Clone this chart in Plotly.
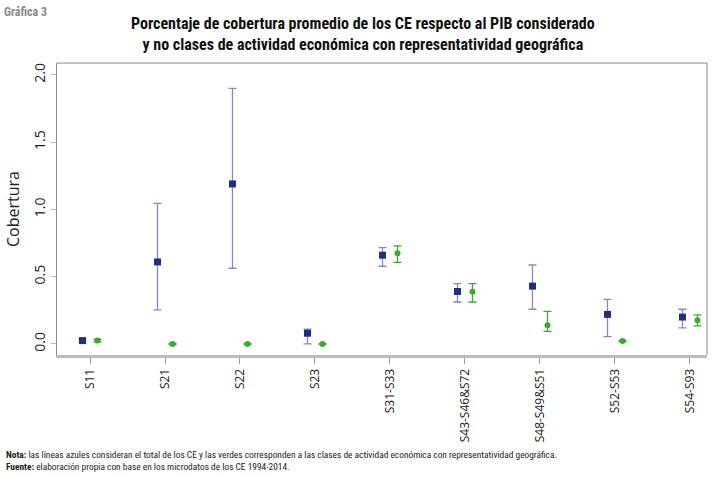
import plotly.graph_objects as go

categories = ["S11", "S21", "S22", "S23", "S31-S33", "S43-S46&S72", "S48-S49&S51", "S52-S53", "S54-S93"]

total_mean = [0.025, 0.61, 1.19, 0.08, 0.66, 0.39, 0.43, 0.22, 0.20]
total_upper = [0.035, 1.045, 1.90, 0.11, 0.716, 0.448, 0.587, 0.332, 0.258]
total_lower = [0.015, 0.253, 0.563, 0.0, 0.578, 0.312, 0.258, 0.054, 0.119]

geo_mean = [0.025, 0.0, 0.0, 0.0, 0.674, 0.389, 0.139, 0.022, 0.176]
geo_upper = [0.035, 0.004, 0.002, 0.002, 0.729, 0.448, 0.243, 0.026, 0.216]
geo_lower = [0.015, -0.004, -0.002, -0.002, 0.607, 0.312, 0.094, 0.018, 0.134]

offset = 0.1
idx = list(range(len(categories)))

fig = go.Figure()
fig.add_trace(go.Scatter(
    x=[i - offset for i in idx], y=total_mean, mode="markers",
    marker=dict(symbol="square", size=7, color="#1f2f80"),
    error_y=dict(type="data", symmetric=False,
                 array=[u - m for u, m in zip(total_upper, total_mean)],
                 arrayminus=[m - l for m, l in zip(total_mean, total_lower)],
                 color="#8a86c6", thickness=1.3, width=4),
    showlegend=False, cliponaxis=False))
fig.add_trace(go.Scatter(
    x=[i + offset for i in idx], y=geo_mean, mode="markers",
    marker=dict(symbol="circle", size=6, color="#3aaa35"),
    error_y=dict(type="data", symmetric=False,
                 array=[u - m for u, m in zip(geo_upper, geo_mean)],
                 arrayminus=[m - l for m, l in zip(geo_mean, geo_lower)],
                 color="#3aaa35", thickness=1.3, width=4),
    showlegend=False, cliponaxis=False))

title_font = "Liberation Sans Narrow, Roboto Condensed, Arial Narrow, sans-serif"

fig.update_layout(
    width=713, height=477,
    margin=dict(l=57, r=6, t=63, b=122),
    paper_bgcolor="white", plot_bgcolor="white",
    font=dict(family="Open Sans", color="#222"),
    xaxis=dict(range=[-0.44, 8.227], tickmode="array", tickvals=idx, ticktext=categories,
               tickangle=-90, ticks="outside", ticklen=6, tickcolor="#999",
               showgrid=False, zeroline=False, showline=True, linecolor="#bbb", linewidth=3,
               mirror=False, automargin=False,
               tickfont=dict(family="Open Sans", size=12, color="#222")),
    yaxis=dict(range=[-0.082, 2.089], tickvals=[0, 0.5, 1.0, 1.5, 2.0],
               ticktext=["0.0", "0.5", "1.0", "1.5", "2.0"], tickangle=-90,
               ticks="outside", ticklen=5, tickcolor="#bbb",
               showgrid=False, zeroline=False, showline=True, linecolor="#888", linewidth=1,
               mirror=False, automargin=False,
               tickfont=dict(family="Open Sans", size=14, color="#222"),
               title=dict(text="Cobertura", font=dict(family="Open Sans", size=16, color="#222"),
                          standoff=6)),
    shapes=[
        dict(type="line", xref="paper", yref="paper", x0=0, x1=1, y0=1, y1=1,
             line=dict(color="#888", width=1)),
        dict(type="line", xref="paper", yref="paper", x0=1, x1=1, y0=0, y1=1,
             line=dict(color="#888", width=1)),
    ],
    annotations=[
        dict(text="<b>Gráfica 3</b>", xref="paper", yref="paper", x=-0.084, y=1.205,
             xanchor="left", yanchor="top", showarrow=False,
             font=dict(family=title_font, size=12, color="#888")),
        dict(text="<b>Porcentaje de cobertura promedio de los CE respecto al PIB considerado<br>"
                  "y no clases de actividad económica con representatividad geográfica</b>",
             xref="paper", yref="paper", x=0.471, y=1.025, xanchor="center", yanchor="bottom",
             showarrow=False, align="center",
             font=dict(family=title_font, size=16, color="#111")),
        dict(text="<b>Nota:</b> las líneas azules consideran el total de los CE y las verdes corresponden a las clases de actividad económica con representatividad geográfica.",
             xref="paper", yref="paper", x=-0.082, y=-0.342, xanchor="left", yanchor="middle",
             showarrow=False, font=dict(family=title_font, size=9.4, color="#222")),
        dict(text="<b>Fuente:</b> elaboración propia con base en los microdatos de los CE 1994-2014.",
             xref="paper", yref="paper", x=-0.082, y=-0.381, xanchor="left", yanchor="middle",
             showarrow=False, font=dict(family=title_font, size=9.4, color="#222")),
    ],
)

fig.write_html("out.html", config={"displayModeBar": False},
               post_script="document.body.style.margin='0';")
